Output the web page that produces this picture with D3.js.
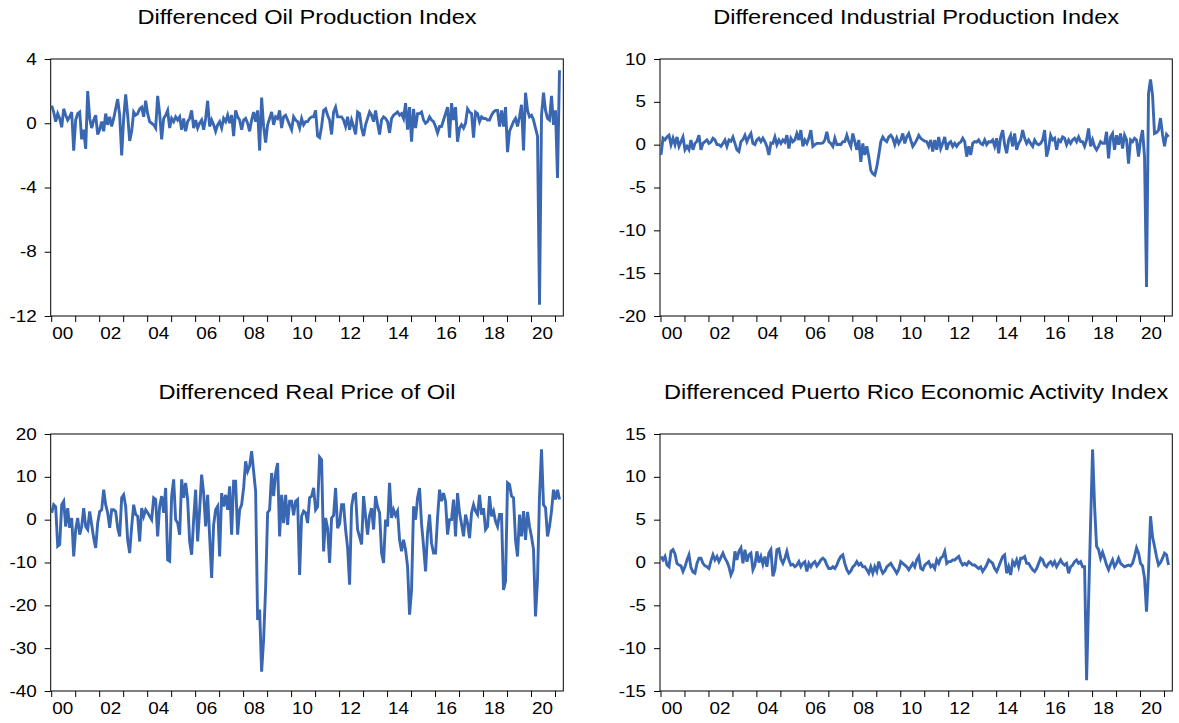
<!DOCTYPE html>
<html>
<head>
<meta charset="utf-8">
<script src="https://cdn.jsdelivr.net/npm/d3@7"></script>
<style>
  body { margin: 0; background: #fff; }
  svg text { font-family: "Liberation Sans", Arial, sans-serif; fill: #000; }
</style>
</head>
<body>
<svg width="1179" height="723"></svg>
<script>
// monthly observations, 2000M01 .. 2021M03 (one row per year)
var startYear = 2000;

var oilProd = [
  1.1, 0.7, 0.1, 0.6, 0.3, -0.25, 0.9, 0.5, 0.2, 0.4, 0.7, -1.7,
  0.2, 0.6, 0.7, -1.0, -0.4, -1.6, 2.0, 0.3, -0.3, 0.2, 0.5, -0.7,
  -0.4, 0.1, -0.5, 0.6, -0.1, 0.4, -0.2, 0.3, 0.9, 1.5, 0.5, -2.0,
  0.3, 1.8, 0.5, -1.1, -0.5, 0.7, 0.5, 0.6, 0.9, 1.0, 0.4, 1.4,
  0.6, 0.1, 0.0, -0.1, -0.3, 1.7, 0.6, -1.0, 0.3, 0.5, 0.8, -0.3,
  0.3, 0.1, 0.4, 0.2, 0.4, -0.4, 0.3, -0.5, 0.1, 0.3, 0.8, -0.3,
  0.2, -0.3, 0.0, 0.2, -0.4, 0.3, 1.4, -0.2, 0.2, -0.1, -0.5, -0.1,
  0.1, -0.3, 0.3, 0.1, 0.5, 0.0, 0.5, -0.8, 0.8, 0.4, 0.2, -0.4,
  0.2, 0.3, 0.0, -0.5, 0.2, 0.7, 0.1, 0.8, -1.7, 1.6, -0.2, -1.2,
  -0.1, 0.3, 0.7, -0.1, 0.4, 0.3, 0.8, -0.3, 0.4, 0.5, 0.2, -0.1,
  -0.4, 0.4, 0.2, 0.1, -0.3, 0.3, -0.1, 0.1, 0.1, 0.3, 0.4, 0.4,
  0.8, -0.8, -0.9, -0.2, 0.8, 0.9, 0.5, 0.2, -0.7, 0.7, 1.0, 0.4,
  0.4, 0.4, 0.2, -0.2, 0.4, -0.4, 0.2, -0.2, -0.7, 0.7, 0.6, -0.3,
  -0.8, -0.1, 0.3, 0.7, 0.5, 0.1, 0.8, 0.0, -0.7, 0.2, 0.4, 0.3,
  0.1, -0.6, 0.3, 0.5, 0.6, 0.7, 0.5, 0.6, 0.3, 1.25, -0.4, 1.0,
  -1.15, 0.9, -0.3, 0.6, 0.6, 0.7, 0.2, 0.0, 0.1, 0.4, 0.2, 0.1,
  -0.2, -0.6, -0.2, -0.2, 0.2, 0.6, 1.0, -0.9, 1.25, 0.2, 1.0, -1.15,
  -0.3, -0.1, -0.3, 0.0, 0.9, 0.7, 0.6, -0.9, 0.7, 0.6, 0.1, 0.4,
  0.3, 0.3, 0.2, 0.2, 0.5, 0.7, 0.8, 0.8, -0.2, 0.8, -0.2, 1.0,
  -1.8, -0.5, -0.2, 0.1, 0.3, -0.2, 0.4, 1.15, -1.7, 1.9, 0.8, 0.4,
  0.5, 0.2, -0.3, -0.8, -11.3, 0.5, 1.9, 0.8, 0.3, 0.2, 1.7, -0.1,
  0.8, -3.4, 3.3
];

var indProd = [
  -1.2, 0.75, 0.55, 0.9, 1.1, 0.0, 0.75, 0.0, 0.9, -0.2, 0.35, 0.9,
  -0.6, -0.2, -0.6, 0.55, -0.6, 0.15, 0.4, 1.1, -0.6, 0.15, 0.35, 0.55,
  0.15, 0.3, 0.75, 0.55, 0.0, 0.0, -0.2, 0.15, 0.55, -0.2, 0.55, 0.4,
  0.9, 0.15, -0.6, -0.8, 0.35, 0.6, 1.1, 0.35, 0.9, 1.3, 0.15, 0.0,
  0.55, 0.75, 0.35, 0.75, 0.35, -0.2, -1.2, 0.2, 0.15, 0.9, 0.0, 0.55,
  0.15, 0.55, 0.3, 1.1, -0.45, 0.75, 0.35, 0.55, 1.3, 0.55, 1.7, -0.2,
  0.55, 0.15, 0.75, 1.7, -0.2, 0.0, 0.15, 0.15, 0.15, 0.2, 0.55, 1.5,
  0.35, 0.15, -0.2, 0.75, 0.0, 0.05, 0.0, 0.35, 0.35, 1.1, 0.35, -0.2,
  1.3, 0.35, -0.6, 0.55, -2.0, 0.15, -1.2, -0.2, -1.4, -3.0, -3.4, -3.55,
  -2.6, -1.2, 0.35, 0.9, 0.55, 0.35, 0.9, 1.1, 0.75, 0.0, 0.75, 0.15,
  0.55, 1.3, 0.15, 0.9, 1.3, 0.55, -0.2, 0.15, 0.55, 1.1, 0.75, 0.55,
  0.4, 0.35, -0.2, 0.55, -0.8, 0.55, -0.6, 0.9, -0.45, 0.15, 0.9, -0.6,
  0.15, 0.35, -0.2, 0.15, -0.2, 0.15, 0.3, 0.75, 0.35, -1.4, -0.2, -1.2,
  0.15, 0.35, 0.3, 0.55, 0.15, 0.0, 0.55, 0.0, 0.35, 0.3, 0.55, -0.2,
  0.75, -1.0, 0.9, 1.7, 0.0, -1.0, 0.55, 1.1, -0.2, 1.3, -0.6, 0.15,
  0.55, 1.7, 0.75, 0.15, 0.55, 0.15, -0.2, 0.55, 0.15, 0.0, 0.15, 0.55,
  1.7, -1.4, -0.45, 1.1, 0.55, 0.75, -0.6, 0.55, 0.35, 0.9, 0.75, 0.0,
  0.55, 0.15, 0.55, 0.75, 0.35, 0.9, 0.35, 0.35, -0.2, 0.55, 1.9, -0.2,
  0.55, -0.2, -0.6, -0.2, 0.35, 0.15, 0.15, 1.5, -1.6, 0.9, 1.3, -0.6,
  1.1, 0.0, 1.3, -0.45, 1.1, 0.55, -2.2, 0.55, 0.35, 0.75, 0.55, -1.4,
  0.55, 1.7, -1.4, -16.6, 6.0, 7.6, 5.8, 1.3, 1.4, 1.7, 3.1, 1.2,
  -0.2, 1.2, 0.9
];

var realOil = [
  1.6, 3.5, 3.0, -6.2, -5.8, 3.5, 4.3, -1.6, 2.7, -1.9, 0.4, -8.6,
  -2.3, 0.4, -3.5, -1.6, 2.7, -1.6, -2.3, 1.9, -1.2, -4.3, -6.6, -0.8,
  1.9, 2.3, 7.0, 3.5, 1.6, -1.9, 2.3, 2.3, 1.9, -1.9, -3.9, 5.1,
  5.8, 3.1, -4.7, -7.8, -1.6, 3.5, 1.2, 0.8, -5.1, 2.7, 0.8, 2.3,
  1.6, 0.8, 0.0, 5.1, 4.7, -3.9, 3.1, 5.5, 1.6, 7.4, -9.4, -9.7,
  5.5, 9.4, 0.0, -0.8, -3.5, 9.4, 5.1, 8.6, 4.7, -5.1, -8.2, 0.0,
  7.0, -5.1, 2.3, 10.5, 6.2, -1.6, 5.8, -3.9, -13.6, -1.2, 2.3, 3.1,
  -8.6, 6.2, 3.1, 5.8, 2.3, 7.8, -3.5, 9.0, 9.0, -3.5, 2.3, 3.5,
  7.4, 13.6, 11.3, 12.5, 16.0, 11.3, 6.6, -23.4, -21.0, -35.5, -28.0, -16.0,
  1.6, 2.3, 10.9, 5.5, 10.9, 13.2, -3.9, 5.8, -0.8, 5.8, -1.2, 4.3,
  4.3, 1.0, 4.3, 4.7, -12.9, 0.8, 2.0, 1.6, -0.8, 5.1, 5.5, 7.4,
  2.3, 3.0, 14.6, 14.0, -7.4, 0.4, -2.0, -10.1, 0.4, 1.0, 7.4, -2.0,
  -1.0, 3.5, 3.5, -2.3, -6.5, -15.2, 3.1, 5.8, 6.0, -2.3, -4.0, -5.8,
  5.5, 0.8, -3.5, 1.0, 2.7, -2.3, 5.5, 3.0, 1.6, -7.8, -10.1, 0.0,
  -1.6, 8.6, 0.4, 2.3, 1.0, 2.0, -4.7, -7.4, -4.7, -7.0, -10.9, -22.2,
  -16.4, 3.1, 0.0, 5.1, 7.4, -1.0, -6.2, -12.1, -3.1, 1.2, -5.5, -7.8,
  -7.8, 0.5, 7.0, 4.3, 6.2, 4.3, -3.5, 0.0, 0.0, 4.7, -3.9, 6.2,
  1.6, -1.0, -3.9, 1.2, -0.8, -4.3, 1.6, 3.5, 2.0, 1.2, 5.8, 1.2,
  2.7, -2.3, -1.6, 5.5, 0.8, 2.0, -0.4, -1.6, 1.2, 1.2, -16.4, -14.4,
  8.6, 8.2, 5.5, 5.1, -4.7, -8.6, 1.2, -3.9, 2.0, -4.7, 1.8, -1.6,
  -4.0, -7.0, -22.6, -14.0, 5.5, 16.4, 3.5, 2.8, -3.9, -1.6, 2.0, 7.0,
  4.7, 7.0, 4.7
];

var prEai = [
  0.7, 0.3, 0.7, -0.3, -0.5, 1.3, 1.5, 1.0, -0.1, -0.3, -0.4, -1.05,
  -0.5, 0.3, 0.9, -0.6, -1.1, -1.25, -0.1, 0.5, 0.5, -0.1, -0.4, -0.5,
  -0.7, 0.2, 0.9, 0.3, 0.7, 0.1, 0.6, 1.1, 0.5, 0.1, -0.5, -1.45,
  -0.9, 1.3, 0.3, 1.3, 1.7, -0.1, 1.5, 0.1, 0.9, 1.1, -0.85, -0.3,
  1.3, 0.0, 0.7, -0.2, 0.7, -0.5, 1.1, 1.5, -1.6, -0.85, 1.5, 1.6,
  0.4, -0.1, 0.5, 1.3, 0.3, -0.3, -0.2, -0.5, -0.3, 0.1, -0.5, -0.1,
  0.1, -1.05, -0.1, -0.5, -0.1, 0.1, -0.4, -0.1, 0.3, 0.5, 0.3, -0.3,
  -0.7, -0.7, -0.5, -0.7, -0.3, 0.3, 0.7, 0.9, -0.1, -0.85, -1.25, -1.0,
  -0.5, -0.3, 0.1, -0.3, -0.1, -0.5, -0.5, -0.85, -1.25, -0.5, -1.25, -0.5,
  -1.05, 0.1, -0.7, -1.25, -1.0, -0.5, -0.3, -0.1, -0.5, -0.85, -1.25, -0.8,
  0.1, -0.1, -0.3, -0.5, -0.85, -0.5, -0.1, -0.5, 0.3, 0.7, -0.7, -0.85,
  -0.3, -0.1, 0.1, -0.5, -0.3, -0.7, 0.3, -0.1, 0.5, 0.7, 1.3, -0.1,
  0.1, 0.1, 0.3, 0.3, 0.5, 0.7, 0.1, -0.3, -0.1, -0.3, 0.1, -0.1,
  -0.3, -0.3, -0.5, -0.7, -0.5, -1.05, -0.7, -0.3, 0.3, 0.1, -0.1, -0.7,
  -1.05, -0.5, 0.1, 0.7, 0.9, -1.25, -0.5, -1.45, 0.1, -0.3, 0.3, -0.5,
  0.5, 0.5, 0.7, -0.1, -0.1, -0.5, -0.85, -1.05, -0.7, -0.1, 0.5, 0.3,
  -0.3, -0.5, -0.1, 0.1, -0.3, 0.1, -0.5, -0.1, 0.3, -0.1, -0.3, -0.1,
  -1.25, -0.5, -0.3, 0.1, 0.3, -0.1, 0.1, -0.5, -0.5, -13.75, -4.5, 4.5,
  13.2, 6.6, 1.9, 1.5, 0.5, 1.2, 0.5, -0.3, -0.85, -0.2, 0.3, -0.5,
  -0.1, 0.5, -0.1, -0.3, -0.5, -0.4, -0.3, -0.4, -0.1, 0.7, 1.7, 1.1,
  -0.1, -0.4, -1.8, -5.75, -1.0, 5.4, 3.0, 1.9, 0.7, -0.3, 0.0, 0.5,
  1.1, 0.9, -0.3
];

var titles = [
  "Differenced Oil Production Index",
  "Differenced Industrial Production Index",
  "Differenced Real Price of Oil",
  "Differenced Puerto Rico Economic Activity Index"
];

var yTicks = [
  [4, 0, -4, -8, -12],
  [10, 5, 0, -5, -10, -15, -20],
  [20, 10, 0, -10, -20, -30, -40],
  [15, 10, 5, 0, -5, -10, -15]
];

var yDomains = [[-12, 4], [-20, 10], [-40, 20], [-15, 15]];
var series = [oilProd, indProd, realOil, prEai];

var svg = d3.select("svg");
var cols = [[50.7, 563.3], [660, 1172.3]];
var rows = [[59, 316], [434, 691]];
var lineColor = "#3a67b2";
var sx = 1.18;   // the source graph's text is stretched sideways

series.forEach(function(data, k) {
  var cx = cols[k % 2], ry = rows[Math.floor(k / 2)];

  var x = d3.scaleLinear().domain([-0.5, 255.9]).range(cx);
  var y = d3.scaleLinear().domain(yDomains[k]).range([ry[1], ry[0]]);

  var g = svg.append("g");

  g.append("text")
    .attr("transform", "translate(" + (cx[0] + cx[1]) / 2 + "," + (ry[0] - 35) + ") scale(" + sx + ",1)")
    .attr("text-anchor", "middle")
    .style("font-size", "20px")
    .text(titles[k]);

  // y axis
  var yAxis = g.append("g")
    .attr("transform", "translate(" + cx[0] + ",0)")
    .call(d3.axisLeft(y).tickValues(yTicks[k]).tickSize(6).tickPadding(8)
      .tickFormat(function(d) { return String(d); }));
  yAxis.select(".domain").remove();
  yAxis.selectAll("line").attr("stroke", "#000");
  yAxis.selectAll("text")
    .style("font-size", "16px")
    .attr("fill", "#000")
    .attr("font-family", null)
    .attr("x", -14 / sx)
    .attr("transform", "scale(" + sx + ",1)");

  // x axis: a tick every January, label every second year
  var years = d3.range(startYear, 2022);
  var xt = g.append("g");
  xt.selectAll("line").data(years).enter().append("line")
    .attr("x1", function(d) { return x((d - startYear) * 12); })
    .attr("x2", function(d) { return x((d - startYear) * 12); })
    .attr("y1", ry[1])
    .attr("y2", ry[1] + 6)
    .attr("stroke", "#000");
  xt.selectAll("text").data(years.filter(function(d) { return d % 2 === 0; }))
    .enter().append("text")
    .attr("transform", function(d) {
      return "translate(" + (x((d - startYear) * 12) + 0.5) + "," + (ry[1] + 23) + ") scale(" + sx + ",1)";
    })
    .style("font-size", "16px")
    .text(function(d) { return String(d).slice(2); });

  // frame
  g.append("rect")
    .attr("x", cx[0])
    .attr("y", ry[0])
    .attr("width", cx[1] - cx[0])
    .attr("height", ry[1] - ry[0])
    .attr("fill", "none")
    .attr("stroke", "#000")
    .attr("stroke-width", 1);

  var line = d3.line()
    .x(function(d, i) { return x(i); })
    .y(function(d) { return y(d); });

  g.append("path")
    .datum(data)
    .attr("d", line)
    .attr("fill", "none")
    .attr("stroke", lineColor)
    .attr("stroke-width", 2.9);
});
</script>
</body>
</html>
